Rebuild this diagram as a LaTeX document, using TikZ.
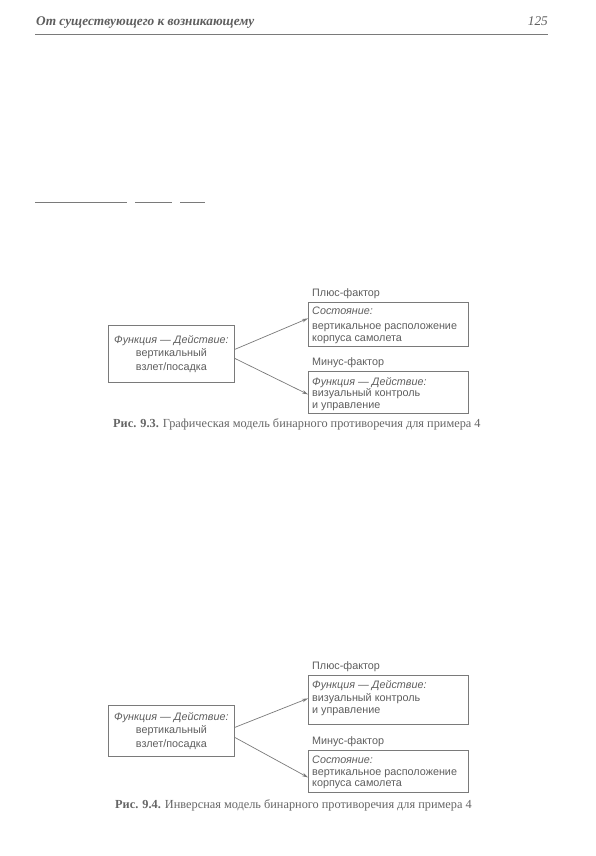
\documentclass[tikz,border=0pt]{standalone}
\usepackage{fontspec}
\setmainfont{Liberation Serif}
\newfontfamily\diagfont{Liberation Sans}
\usetikzlibrary{arrows.meta}
\definecolor{inkgray}{HTML}{5E5E5E}
\definecolor{linegray}{HTML}{7A7A7A}
\definecolor{capgray}{HTML}{666666}
\tikzset{
  box/.style={draw=linegray, line width=0.8pt, anchor=north west, inner sep=0pt, rectangle},
  boxtext/.style={anchor=north west, inner sep=0pt, align=left, text=inkgray,
    font=\diagfont\fontsize{10.8}{11.5}\selectfont},
  ctext/.style={anchor=north, inner sep=0pt, align=center, text=inkgray,
    font=\diagfont\fontsize{10.8}{13.5}\selectfont},
  factor/.style={anchor=south west, inner sep=0pt, text=inkgray,
    font=\diagfont\fontsize{10.8}{12.5}\selectfont},
  arr/.style={draw=linegray, line width=0.7pt, -{Stealth[length=6pt,width=3.5pt]}},
  caption/.style={anchor=west, inner sep=0pt, text=capgray, font=\fontsize{12.3}{14}\selectfont},
  rule/.style={draw=linegray, line width=0.6pt}
}
\begin{document}
\begin{tikzpicture}[x=1pt,y=-1pt]
\useasboundingbox[fill=white] (0,0) rectangle (595,856);
% header
\node[anchor=base west, inner sep=0pt, text=inkgray, font=\fontsize{13.3}{15}\selectfont\bfseries\itshape] (hdr) at (36,26) {От существующего к возникающему};
\node[anchor=base east, inner sep=0pt, text=inkgray, font=\fontsize{13.3}{15}\selectfont\itshape] (pg) at (548,26) {125};
\coordinate (rl) at (35,34.5);
\coordinate (rr) at (548,34.5);
\draw[rule, line width=0.9pt] (rl) -- (rr);
% short lines
\coordinate (s1a) at (35,202); \coordinate (s1b) at (127,202);
\coordinate (s2a) at (135,202); \coordinate (s2b) at (172,202);
\coordinate (s3a) at (180,202); \coordinate (s3b) at (205,202);
\draw[rule] (s1a) -- (s1b);
\draw[rule] (s2a) -- (s2b);
\draw[rule] (s3a) -- (s3b);

% ===== Figure 9.3 =====
\node[box, minimum width=126pt, minimum height=57pt] (L1) at (108,325) {};
\node[ctext] (L1t) at ([yshift=-10pt]L1.north) {\itshape Функция — Действие:\\вертикальный\\взлет/посадка};
\node[box, minimum width=160pt, minimum height=44pt] (TR1) at (308,302) {};
\node[factor] (TR1f) at ([xshift=4pt,yshift=3pt]TR1.north west) {Плюс-фактор};
\node[boxtext] (TR1t) at ([xshift=4pt,yshift=-4.5pt]TR1.north west) {\itshape Состояние:\\[4pt]вертикальное расположение\\корпуса самолета};
\node[box, minimum width=160pt, minimum height=42pt] (BR1) at (308,371) {};
\node[factor] (BR1f) at ([xshift=4pt,yshift=3pt]BR1.north west) {Минус-фактор};
\node[boxtext] (BR1t) at ([xshift=4pt,yshift=-6pt]BR1.north west) {\itshape Функция — Действие:\\визуальный контроль\\и управление};
\draw[arr] ([yshift=4.5pt]L1.east) -- ([yshift=6pt]TR1.west);
\draw[arr] ([yshift=-4.5pt]L1.east) -- ([yshift=-2pt]BR1.west);
\node[caption] (cap1) at (113,424) {\textbf{Рис. 9.3.} Графическая модель бинарного противоречия для примера 4};

% ===== Figure 9.4 =====
\node[box, minimum width=126pt, minimum height=51pt] (L2) at (108,705) {};
\node[ctext] (L2t) at ([yshift=-7pt]L2.north) {\itshape Функция — Действие:\\вертикальный\\взлет/посадка};
\node[box, minimum width=160pt, minimum height=49pt] (TR2) at (308,675) {};
\node[factor] (TR2f) at ([xshift=4pt,yshift=3pt]TR2.north west) {Плюс-фактор};
\node[boxtext] (TR2t) at ([xshift=4pt,yshift=-5pt]TR2.north west) {\itshape Функция — Действие:\\[2pt]визуальный контроль\\и управление};
\node[box, minimum width=160pt, minimum height=42pt] (BR2) at (308,750) {};
\node[factor] (BR2f) at ([xshift=4pt,yshift=3pt]BR2.north west) {Минус-фактор};
\node[boxtext] (BR2t) at ([xshift=4pt,yshift=-6pt]BR2.north west) {\itshape Состояние:\\вертикальное расположение\\корпуса самолета};
\draw[arr] ([yshift=3.5pt]L2.east) -- ([yshift=1.5pt]TR2.west);
\draw[arr] ([yshift=-6.5pt]L2.east) -- ([yshift=-6pt]BR2.west);
\node[caption] (cap2) at (115,805) {\textbf{Рис. 9.4.} Инверсная модель бинарного противоречия для примера 4};
\end{tikzpicture}
\end{document}
